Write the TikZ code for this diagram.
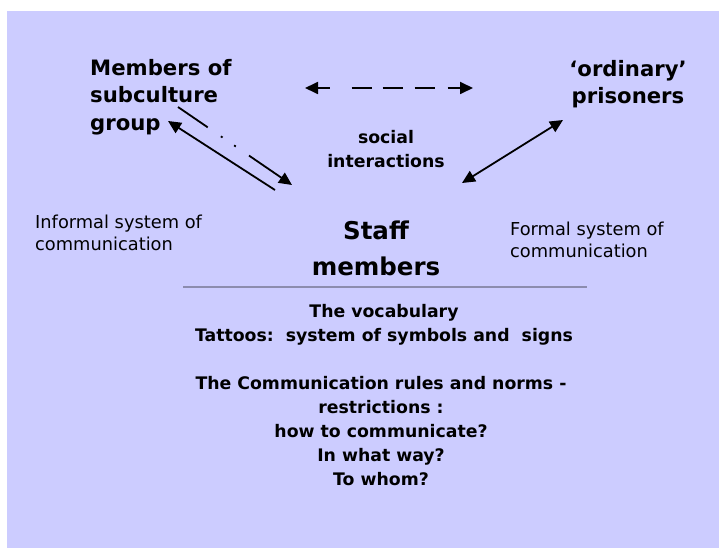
\documentclass[tikz,border=0pt]{standalone}
\usepackage{fontspec}
\setmainfont{DejaVu Sans}
\usetikzlibrary{arrows.meta}
\usetikzlibrary{positioning}

\definecolor{lilac}{HTML}{CCCCFF}
\definecolor{rulegray}{HTML}{8C8CAE}

\tikzset{
  heading/.style={font=\fontsize{21.2}{27.5}\selectfont\bfseries,inner sep=0pt},
  staffhead/.style={font=\fontsize{24.5}{36}\selectfont\bfseries,inner sep=0pt,align=center},
  boldtext/.style={font=\fontsize{17.3}{24}\selectfont\bfseries,inner sep=0pt,align=center},
  plaintext/.style={font=\fontsize{17.8}{22}\selectfont,inner sep=0pt,align=left},
  link/.style={line width=1.8pt}
}

\begin{document}
\begin{tikzpicture}[x=1pt,y=-1pt,>={Triangle[length=13pt,width=12pt]}]
  \useasboundingbox (0,0) rectangle (719,548);
  \fill[lilac] (7,11) rectangle (719,548);

  % groups
  \node[heading,align=left,anchor=north west] (sub) at (90,59) {Members of\\subculture\\group};
  \node[heading,align=center,anchor=north] (ord) at (628,60) {`ordinary'\\prisoners};
  \node[staffhead,anchor=north] (staff) at (376,221) {Staff\\members};

  \node[boldtext,anchor=north] (soc) at (386,130) {social\\interactions};

  % kinds of communication
  \node[plaintext,anchor=north west] (inf) at (35,214.5) {Informal system of\\communication};
  \node[plaintext,anchor=north west] (form) at (510,221.5) {Formal system of\\communication};

  % arrow ends
  \coordinate (dl) at (305,88);
  \coordinate (dr) at (473,88);
  \coordinate (ga) at (168,121);
  \coordinate (gb) at (275,190);
  \coordinate (sa) at (178,107);
  \coordinate (sb) at (292,185);
  \coordinate (pa) at (462,183);
  \coordinate (pb) at (563,120);

  \draw[link,<->,dash pattern=on 12pt off 22pt on 20pt off 11pt on 20pt off 12pt on 20pt off 13pt on 40pt] (dl) -- (dr);
  \draw[link,->] (gb) -- (ga);
  \draw[link,->,dash pattern=on 36pt off 16pt on 2pt off 14pt on 2pt off 16pt on 100pt] (sa) -- (sb);
  \draw[link,<->] (pa) -- (pb);

  % rule under the staff
  \coordinate (rl) at (183,287);
  \coordinate (rr) at (587,287);
  \draw[rulegray,line width=2.2pt] (rl) -- (rr);

  % the lists
  \node[boldtext,anchor=north] (voc) at (384,304) {The vocabulary\\Tattoos:\ \ system of symbols and\ \ signs};
  \node[boldtext,anchor=north] (rules) at (381,376) {The Communication rules and norms -\\restrictions :\\how to communicate?\\In what way?\\To whom?};
\end{tikzpicture}
\end{document}
